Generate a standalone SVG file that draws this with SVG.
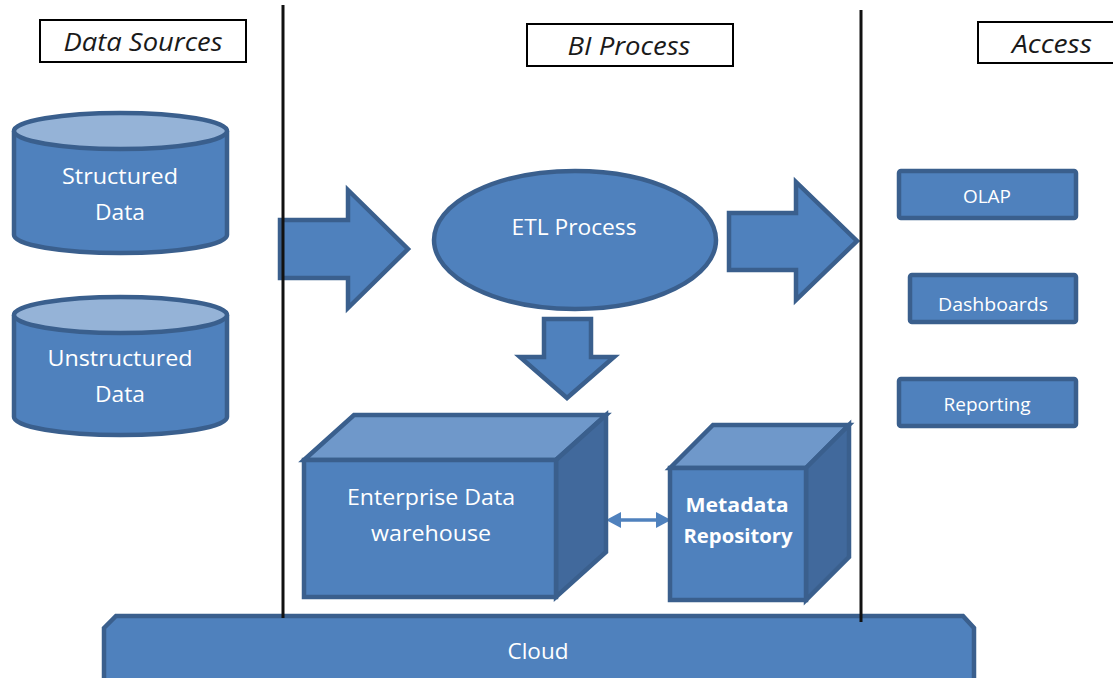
<svg xmlns="http://www.w3.org/2000/svg" width="1113" height="678" viewBox="0 0 1113 678">
<style>
.shape{fill:#4F81BD;stroke:#3A5F8D;stroke-width:4.5;stroke-linejoin:miter}
.top{fill:#95B3D7;stroke:#3A5F8D;stroke-width:4.5}
.cubetop{fill:#6F98CA;stroke:#3A5F8D;stroke-width:4.5;stroke-linejoin:miter}
.cuberight{fill:#41699C;stroke:#3A5F8D;stroke-width:4.5;stroke-linejoin:miter}
.hdr{fill:#fff;stroke:#000;stroke-width:2}
.hdrt{font-family:"Open Sans","Liberation Sans",sans-serif;font-style:italic;font-size:26px;fill:#1a1a1a;text-anchor:middle}
.lbl{font-family:"Open Sans","Liberation Sans",sans-serif;font-size:22.5px;fill:#fff;text-anchor:middle}
.sm{font-family:"Open Sans","Liberation Sans",sans-serif;font-size:18.5px;fill:#fff;text-anchor:middle}
.bold{font-family:"Open Sans","Liberation Sans",sans-serif;font-size:20px;font-weight:bold;fill:#fff;text-anchor:middle}
.vline{stroke:#111;stroke-width:3}
.dbl{fill:#4F81BD;stroke:none}
</style>
<rect width="1113" height="678" fill="#fff"/>

<g id="header-data-sources">
<rect class="hdr" x="40" y="20" width="206" height="42"/>
<text class="hdrt" x="143" y="51" textLength="159" lengthAdjust="spacingAndGlyphs">Data Sources</text>
</g>
<g id="header-bi-process">
<rect class="hdr" x="527" y="24" width="206" height="42"/>
<text class="hdrt" x="629" y="55" textLength="123" lengthAdjust="spacingAndGlyphs">BI Process</text>
</g>
<g id="header-access">
<rect class="hdr" x="978" y="22" width="140" height="41"/>
<text class="hdrt" x="1052" y="53" textLength="80" lengthAdjust="spacingAndGlyphs">Access</text>
</g>

<g id="structured-data">
<path class="shape" d="M14,131 L14,235 A106.5,18 0 0 0 227,235 L227,131"/>
<ellipse class="top" cx="120.5" cy="131" rx="106.5" ry="18"/>
<text class="lbl" x="120" y="184" textLength="116" lengthAdjust="spacingAndGlyphs">Structured</text>
<text class="lbl" x="120" y="220" textLength="50" lengthAdjust="spacingAndGlyphs">Data</text>
</g>
<g id="unstructured-data">
<path class="shape" d="M14,315 L14,417 A106.5,18 0 0 0 227,417 L227,315"/>
<ellipse class="top" cx="120.5" cy="315" rx="106.5" ry="18"/>
<text class="lbl" x="120" y="366" textLength="145" lengthAdjust="spacingAndGlyphs">Unstructured</text>
<text class="lbl" x="120" y="402" textLength="50" lengthAdjust="spacingAndGlyphs">Data</text>
</g>

<g id="connectors">
<polygon class="shape" points="280,220 348,220 348,190 408,249 348,308 348,278 280,278"/>
<polygon class="shape" points="729,213 796,213 796,182 857,241 796,300 796,270 729,270"/>
<polygon class="shape" points="544,319 591,319 591,357 614,357 567,398 520,357 544,357"/>
<line x1="618" y1="520" x2="659" y2="520" stroke="#4F81BD" stroke-width="3.5"/>
<polygon class="dbl" points="606,520 621,512 621,528"/>
<polygon class="dbl" points="671,520 656,512 656,528"/>
</g>

<g id="etl-process">
<ellipse class="shape" cx="575" cy="240" rx="141" ry="69"/>
<text class="lbl" x="574" y="235" textLength="125" lengthAdjust="spacingAndGlyphs">ETL Process</text>
</g>

<g id="enterprise-data-warehouse">
<polygon class="cubetop" points="304,460 354,415 606,415 556,460"/>
<polygon class="cuberight" points="556,460 606,415 606,552 556,597"/>
<rect class="shape" x="304" y="460" width="252" height="137"/>
<text class="lbl" x="431" y="505" textLength="168" lengthAdjust="spacingAndGlyphs">Enterprise Data</text>
<text class="lbl" x="431" y="541" textLength="120" lengthAdjust="spacingAndGlyphs">warehouse</text>
</g>

<g id="metadata-repository">
<polygon class="cubetop" points="670,468 713,425 849,425 806,468"/>
<polygon class="cuberight" points="806,468 849,425 849,557 806,600"/>
<rect class="shape" x="670" y="468" width="136" height="132"/>
<text class="bold" x="737" y="512" textLength="103" lengthAdjust="spacingAndGlyphs">Metadata</text>
<text class="bold" x="738" y="543" textLength="109" lengthAdjust="spacingAndGlyphs">Repository</text>
</g>

<g id="olap">
<rect class="shape" x="899" y="171" width="177" height="47" rx="2"/>
<text class="sm" x="987" y="203" textLength="48" lengthAdjust="spacingAndGlyphs">OLAP</text>
</g>
<g id="dashboards">
<rect class="shape" x="910" y="275" width="166" height="47" rx="2"/>
<text class="sm" x="993" y="311" textLength="110" lengthAdjust="spacingAndGlyphs">Dashboards</text>
</g>
<g id="reporting">
<rect class="shape" x="899" y="379" width="177" height="47" rx="2"/>
<text class="sm" x="987" y="411" textLength="87" lengthAdjust="spacingAndGlyphs">Reporting</text>
</g>

<g id="cloud">
<path class="shape" d="M104,628 L116,616 L963,616 L974,628 L974,682 L104,682 Z"/>
<text class="lbl" x="538" y="659" textLength="61" lengthAdjust="spacingAndGlyphs">Cloud</text>
</g>

<g id="dividers">
<line class="vline" x1="283" y1="5" x2="283" y2="618"/>
<line class="vline" x1="861" y1="10" x2="861" y2="622"/>
</g>
</svg>
